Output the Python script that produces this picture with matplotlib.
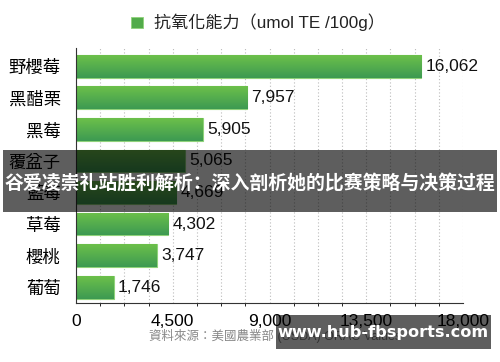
import numpy as np
import matplotlib.pyplot as plt
from matplotlib.patches import Rectangle
from matplotlib.colors import LinearSegmentedColormap

plt.rcParams['font.family'] = ['Liberation Sans', 'Noto Sans CJK TC', 'DejaVu Sans']

fruits = ["野櫻莓", "黑醋栗", "黑莓", "覆盆子", "藍莓", "草莓", "櫻桃", "葡萄"]
orac = [16062, 7957, 5905, 5065, 4669, 4302, 3747, 1746]
xticks = [0, 4500, 9000, 13500, 18000]
legend_label = "抗氧化能力（umol TE /100g）"
source = "資料來源：美國農業部 (USDA) ORAC Values"
banner = "谷爱凌崇礼站胜利解析：深入剖析她的比赛策略与决策过程"
watermark = "www.hub-fbsports.com"

fig = plt.figure(figsize=(5, 3.62), dpi=100)
ax = fig.add_axes([0.152, 0.163, 0.774, 0.704])

y = np.arange(len(fruits))
bars = ax.barh(y, orac, height=0.72, color="#52ab4a", edgecolor="#8fd27a",
               linewidth=0.8, zorder=3)

# vertical gradient inside each bar
grad = LinearSegmentedColormap.from_list("g", ["#6cc04a", "#3d9a52"])
for b in bars:
    x0, y0 = b.get_x(), b.get_y()
    im = ax.imshow(np.linspace(0, 1, 50).reshape(-1, 1), cmap=grad,
                   extent=[x0, x0 + b.get_width(), y0 + b.get_height(), y0],
                   aspect="auto", zorder=3.5)
    im.set_clip_path(b)

for yi, v in zip(y, orac):
    ax.text(v + 200, yi, f"{v:,}", va="center", ha="left", fontsize=12.5,
            color="#111111", zorder=5)

ax.set_xlim(0, 18000)
ax.set_ylim(len(fruits) - 0.5, -0.57)
ax.set_aspect("auto")
ax.set_xticks(xticks)
ax.set_xticklabels([f"{t:,}" for t in xticks], fontsize=12.5)
ax.set_xticks(np.arange(0, 18001, 1125), minor=True)
ax.set_yticks(y)
ax.set_yticklabels(fruits, fontsize=12.5, family=['Noto Sans CJK TC'])
ax.tick_params(axis="both", length=0, pad=8)
ax.tick_params(axis="y", pad=11)
ax.grid(axis="x", which="both", linestyle=(0, (1, 2)), color="#bbbbbb",
        linewidth=0.8, zorder=0)
for s in ["top", "right"]:
    ax.spines[s].set_visible(False)
ax.spines["left"].set_color("#333333")
ax.spines["bottom"].set_color("#333333")
ax.spines["left"].set_zorder(6)

# legend
fig.patches.append(Rectangle((131 / 500, 1 - 28 / 362), 12 / 500, 11 / 362,
                             transform=fig.transFigure, facecolor="#52ab4a",
                             edgecolor="#8fd27a", linewidth=0.6))
fig.text(154 / 500, 1 - 22.5 / 362, legend_label, fontsize=12.3, va="center",
         ha="left", color="#222222",
         family=['Liberation Sans', 'Noto Sans CJK TC'])

fig.text(149 / 500, 1 - 336 / 362, source, fontsize=9, va="center", ha="left",
         color="#888888", family=['Liberation Sans', 'Noto Sans CJK TC'])

# overlay banner and watermark
fig.patches.append(Rectangle((3 / 500, 1 - 212 / 362), 494 / 500, 62 / 362,
                             transform=fig.transFigure, facecolor="black",
                             alpha=0.63, zorder=20))
fig.text(0.5, 1 - 183 / 362, banner, fontsize=13.6, fontweight="bold",
         color="white", ha="center", va="center", zorder=21,
         family=['Noto Sans CJK SC'])
fig.patches.append(Rectangle((276 / 500, 1 - 349 / 362), 215 / 500, 34 / 362,
                             transform=fig.transFigure, facecolor="black",
                             alpha=0.63, zorder=20))
fig.text(383 / 500, 1 - 332 / 362, watermark, fontsize=11.6, fontweight="bold",
         color="white", ha="center", va="center", zorder=21,
         family=['DejaVu Sans'])

fig.savefig("out.png", dpi=100)
